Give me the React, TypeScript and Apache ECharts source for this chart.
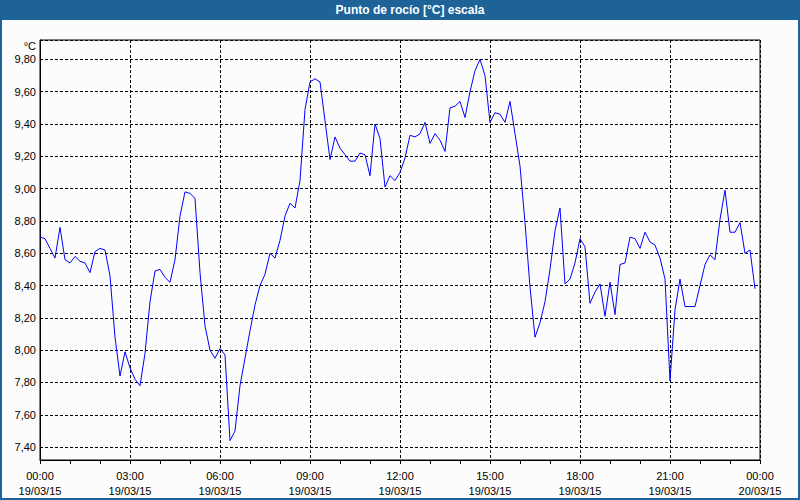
import React, { useEffect, useRef } from 'react';
import * as echarts from 'echarts';

const chartTitle = 'Punto de rocío [°C] escala';
const unitLabel = '°C';
const stepHours = 1 / 6; // 10-minute samples starting 19/03/15 00:00

const dewPoint = [
  8.70, 8.69, 8.63, 8.57, 8.76, 8.56, 8.54, 8.58, 8.55, 8.54,
  8.48, 8.61, 8.63, 8.62, 8.46, 8.08, 7.84, 7.99, 7.89, 7.82,
  7.78, 7.98, 8.30, 8.49, 8.50, 8.45, 8.42, 8.56, 8.83, 8.98,
  8.97, 8.94, 8.48, 8.15, 8.00, 7.95, 8.01, 7.97, 7.44, 7.50,
  7.78, 7.95, 8.12, 8.28, 8.40, 8.47, 8.60, 8.57, 8.68, 8.83,
  8.91, 8.88, 9.05, 9.49, 9.66, 9.68, 9.66, 9.42, 9.18, 9.32,
  9.25, 9.21, 9.17, 9.17, 9.22, 9.21, 9.08, 9.40, 9.31, 9.01,
  9.08, 9.05, 9.10, 9.19, 9.33, 9.32, 9.34, 9.41, 9.28, 9.34,
  9.30, 9.23, 9.50, 9.51, 9.54, 9.44, 9.60, 9.73, 9.80, 9.70,
  9.41, 9.47, 9.46, 9.41, 9.54, 9.34, 9.14, 8.79, 8.39, 8.08,
  8.17, 8.30, 8.50, 8.74, 8.88, 8.41, 8.44, 8.54, 8.69, 8.64,
  8.29, 8.36, 8.41, 8.21, 8.42, 8.22, 8.53, 8.54, 8.70, 8.69,
  8.63, 8.73, 8.67, 8.65, 8.57, 8.44, 7.81, 8.25, 8.44, 8.27,
  8.27, 8.27, 8.40, 8.53, 8.59, 8.56, 8.81, 8.99, 8.73, 8.73,
  8.79, 8.60, 8.62, 8.38,
];

const xTickLabels = [
  '00:00\n19/03/15', '03:00\n19/03/15', '06:00\n19/03/15', '09:00\n19/03/15',
  '12:00\n19/03/15', '15:00\n19/03/15', '18:00\n19/03/15', '21:00\n19/03/15',
  '00:00\n20/03/15',
];

const yMin = 7.32;
const yMax = 9.92;

const FONT = "'Liberation Sans', Arial, sans-serif";

export default function App() {
  const ref = useRef<HTMLDivElement>(null);

  useEffect(() => {
    if (!ref.current) return;
    const chart = echarts.init(ref.current, null, { renderer: 'svg' });
    const data = dewPoint.map((v, i) => [i * stepHours, v]);

    chart.setOption({
      animation: false,
      backgroundColor: '#1d6398',
      textStyle: { fontFamily: FONT },
      graphic: [
        {
          type: 'rect',
          z: -10,
          silent: true,
          shape: { x: 2, y: 20, width: 796, height: 478 },
          style: { fill: '#fbfcfb' },
        },
        {
          type: 'text',
          x: 410,
          y: 10,
          z: 10,
          style: {
            text: chartTitle,
            fill: '#ffffff',
            font: `bold 12px ${FONT}`,
            textAlign: 'center',
            textVerticalAlign: 'middle',
          },
        },
        {
          type: 'text',
          x: 36,
          y: 46,
          z: 10,
          style: {
            text: unitLabel,
            fill: '#000000',
            font: `11px ${FONT}`,
            textAlign: 'right',
            textVerticalAlign: 'middle',
          },
        },
      ],
      grid: {
        left: 40,
        right: 40,
        top: 40,
        bottom: 40,
        show: true,
        borderColor: '#000000',
        borderWidth: 1,
        backgroundColor: 'transparent',
      },
      xAxis: {
        type: 'value',
        min: 0,
        max: 24,
        interval: 3,
        axisLine: { show: true, lineStyle: { color: '#000', width: 1 } },
        axisTick: { show: true, length: 4, lineStyle: { color: '#000' } },
        minorTick: { show: true, splitNumber: 3, length: 4, lineStyle: { color: '#000' } },
        splitLine: { show: true, lineStyle: { color: '#000', type: [3, 2], width: 1 } },
        minorSplitLine: { show: false },
        axisLabel: {
          color: '#000',
          fontSize: 11,
          fontFamily: FONT,
          margin: 8,
          lineHeight: 15,
          formatter: (v: number) => {
            const idx = Math.round(v / 3);
            return xTickLabels[idx] ?? '';
          },
        },
      },
      yAxis: {
        type: 'value',
        min: yMin,
        max: yMax,
        splitNumber: 13,
        minInterval: 0.2,
        maxInterval: 0.2,
        axisLine: { show: true, lineStyle: { color: '#000', width: 1 } },
        axisTick: { show: false },
        splitLine: { show: true, lineStyle: { color: '#000', type: [3, 2], width: 1 } },
        axisLabel: {
          color: '#000',
          fontSize: 11,
          fontFamily: FONT,
          margin: 4,
          showMinLabel: false,
          showMaxLabel: false,
          formatter: (v: number) => {
            const k = v / 0.2;
            if (Math.abs(k - Math.round(k)) > 1e-6) return '';
            return v.toFixed(2).replace('.', ',');
          },
        },
      },
      series: [
        {
          type: 'line',
          data,
          symbol: 'none',
          smooth: false,
          lineStyle: { color: '#0000ff', width: 1 },
          z: 5,
        },
      ],
    });

    return () => chart.dispose();
  }, []);

  return (
    <div
      ref={ref}
      style={{ position: 'absolute', left: 0, top: 0, width: 800, height: 500 }}
    />
  );
}
